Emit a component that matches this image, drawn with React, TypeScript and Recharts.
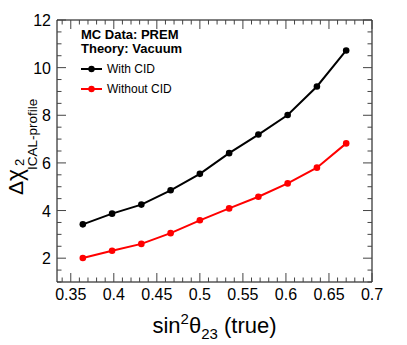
import { LineChart, Line, XAxis, YAxis } from 'recharts';

// values
const SIN2_TRUE = [0.364, 0.398, 0.432, 0.466, 0.5, 0.534, 0.568, 0.602, 0.636, 0.67];
const WITH_CID = [3.42, 3.87, 4.25, 4.85, 5.54, 6.41, 7.19, 8.01, 9.21, 10.72];
const WITHOUT_CID = [2.01, 2.31, 2.6, 3.05, 3.59, 4.09, 4.58, 5.14, 5.8, 6.82];

const X_MAJOR = [0.35, 0.4, 0.45, 0.5, 0.55, 0.6, 0.65, 0.7];
const X_LABELS = ['0.35', '0.4', '0.45', '0.5', '0.55', '0.6', '0.65', '0.7'];
const Y_MAJOR = [2, 4, 6, 8, 10, 12];
const Y_LABELS = ['2', '4', '6', '8', '10', '12'];

const LEGEND_HEADER = ['MC Data: PREM', 'Theory: Vacuum'];
const SERIES = [
  { key: 'withCid', name: 'With CID', color: '#000000' },
  { key: 'withoutCid', name: 'Without CID', color: '#ff0000' },
];

const FONT = '"Liberation Sans", Arial, Helvetica, sans-serif';

const data = SIN2_TRUE.map((x, i) => ({ x, withCid: WITH_CID[i], withoutCid: WITHOUT_CID[i] }));

// minor ticks: 0.01 on x, 0.5 on y
const X_TICKS = Array.from({ length: 37 }, (_, i) => Math.round((0.34 + i * 0.01) * 100) / 100);
const Y_TICKS = Array.from({ length: 23 }, (_, i) => 1 + i * 0.5);

const majorIndex = (list: number[], v: number) => list.findIndex((m) => Math.abs(m - v) < 1e-6);

function makeTick(side: 'bottom' | 'top' | 'left' | 'right') {
  return (props: any) => {
    const { x, y, payload } = props;
    const v = payload.value;
    const horizontal = side === 'bottom' || side === 'top';
    const idx = majorIndex(horizontal ? X_MAJOR : Y_MAJOR, v);
    const len = idx >= 0 ? 9 : 4.5;
    const px = Number(x), py = Number(y);
    let x2 = px, y2 = py;
    if (side === 'bottom') y2 = py - len;
    if (side === 'top') y2 = py + len;
    if (side === 'left') x2 = px + len;
    if (side === 'right') x2 = px - len;
    return (
      <g>
        <path d={`M${px},${py}L${x2},${y2}`} stroke="#444" strokeWidth={1} fill="none" />
        {side === 'bottom' && idx >= 0 && (
          <text x={px} y={py + 18} textAnchor="middle" fontSize={16} fontFamily={FONT} fill="#000">
            {X_LABELS[idx]}
          </text>
        )}
        {side === 'left' && idx >= 0 && (
          <text x={px - 6} y={py + 6} textAnchor="end" fontSize={16} fontFamily={FONT} fill="#000">
            {Y_LABELS[idx]}
          </text>
        )}
      </g>
    );
  };
}

function XTitle(props: any) {
  const vb = props.viewBox || { x: 57, y: 282, width: 315 };
  const cx = vb.x + vb.width / 2;
  return (
    <text x={cx} y={vb.y + 51} textAnchor="middle" fontSize={22} fontFamily={FONT} fill="#000">
      sin<tspan fontSize={15} dy={-9}>2</tspan>
      <tspan dy={9}>θ</tspan>
      <tspan fontSize={15} dy={6}>23</tspan>
      <tspan dy={-6}> (true)</tspan>
    </text>
  );
}

function YTitle() {
  return (
    <g transform="rotate(-90)" fontFamily={FONT} fill="#000">
      <text x={-195} y={23} fontSize={21}>
        Δ<tspan fontSize={23}>χ</tspan>
      </text>
      <text x={-166} y={24} fontSize={13}>2</text>
      <text x={-170} y={37} fontSize={13.5}>ICAL-profile</text>
    </g>
  );
}

function LegendBox() {
  return (
    <div style={{ position: 'absolute', left: 81, top: 28, fontFamily: FONT, color: '#000' }}>
      {LEGEND_HEADER.map((t) => (
        <div key={t} style={{ fontSize: 13, fontWeight: 'bold', lineHeight: '14px', whiteSpace: 'nowrap' }}>{t}</div>
      ))}
      <div style={{ marginTop: 3 }}>
        {SERIES.map((s) => (
          <div key={s.key} style={{ display: 'flex', alignItems: 'center', height: 20 }}>
            <svg width={22} height={20} style={{ display: 'block' }}>
              <line x1={0} y1={10} x2={21} y2={10} stroke={s.color} strokeWidth={2} />
              <circle cx={10.5} cy={10} r={3.2} fill={s.color} />
            </svg>
            <span style={{ marginLeft: 4, fontSize: 12, whiteSpace: 'nowrap' }}>{s.name}</span>
          </div>
        ))}
      </div>
    </div>
  );
}

export default function App() {
  const axisLine = { stroke: '#000', strokeWidth: 1 };
  return (
    <div style={{ position: 'absolute', left: 0, top: 0, width: 407, height: 345, background: '#fff' }}>
      <LineChart width={407} height={345} data={data} margin={{ top: 19, right: 34, bottom: 0, left: 0 }}>
        <XAxis
          xAxisId="bottom" dataKey="x" type="number" domain={[0.334, 0.7]} ticks={X_TICKS} interval={0}
          height={63} tickSize={0} tickMargin={0} tickLine={false} axisLine={axisLine}
          tick={makeTick('bottom')} label={<XTitle />} allowDataOverflow
        />
        <XAxis
          xAxisId="top" orientation="top" dataKey="x" type="number" domain={[0.334, 0.7]} ticks={X_TICKS} interval={0}
          height={1} tickSize={0} tickMargin={0} tickLine={false} axisLine={axisLine}
          tick={makeTick('top')} allowDataOverflow
        />
        <YAxis
          yAxisId="left" type="number" domain={[1, 12]} ticks={Y_TICKS} interval={0}
          width={57} tickSize={0} tickMargin={0} tickLine={false} axisLine={axisLine}
          tick={makeTick('left')} label={<YTitle />} allowDataOverflow
        />
        <YAxis
          yAxisId="right" orientation="right" type="number" domain={[1, 12]} ticks={Y_TICKS} interval={0}
          width={1} tickSize={0} tickMargin={0} tickLine={false} axisLine={axisLine}
          tick={makeTick('right')} allowDataOverflow
        />
        {SERIES.map((s) => (
          <Line
            key={s.key} xAxisId="bottom" yAxisId="left" dataKey={s.key} name={s.name}
            stroke={s.color} strokeWidth={2} isAnimationActive={false}
            dot={{ r: 3.3, fill: s.color, stroke: s.color, strokeWidth: 0 }} activeDot={false}
          />
        ))}
        <Line
          xAxisId="top" yAxisId="right" dataKey="withCid" stroke="none" dot={false}
          activeDot={false} legendType="none" isAnimationActive={false}
        />
      </LineChart>
      <LegendBox />
    </div>
  );
}
